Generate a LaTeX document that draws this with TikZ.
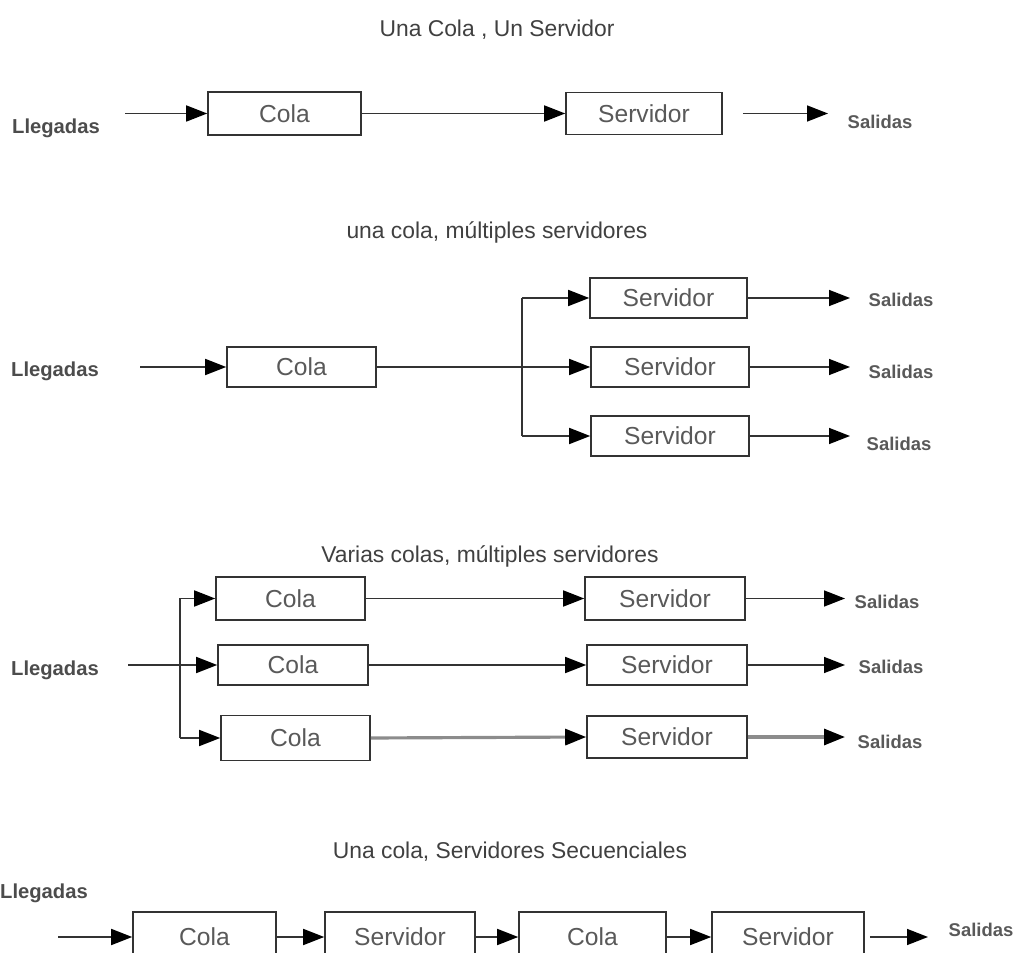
\documentclass[tikz,border=0pt]{standalone}
\usepackage{fontspec}
\setmainfont{Liberation Sans}
\usetikzlibrary{arrows.meta}

\begin{document}
\begin{tikzpicture}[
  caja/.style={draw=black!80, line width=0.9pt, fill=white, inner sep=0pt,
    font=\fontsize{14}{16}\selectfont, text=black!65},
  etiq/.style={font=\bfseries\fontsize{11.5}{13}\selectfont, text=black!70},
  salida/.style={font=\bfseries\fontsize{10.5}{12}\selectfont, text=black!65},
  titulo/.style={font=\fontsize{13}{15}\selectfont, text=black!75},
  linea/.style={line width=0.9pt, draw=black!80},
  flecha/.style={linea, -{Triangle[length=4.2mm,width=3.2mm,color=black]}},
  gruesa/.style={flecha, line width=1.8pt, draw=black!45},
]
\useasboundingbox (0,0) rectangle (20.4,-19.06);

% una cola, un servidor
\node[titulo] (t1) at (9.94,-0.60) {Una Cola , Un Servidor};
\node[etiq] (lleg1) at (1.12,-2.56) {Llegadas};
\node[caja, minimum width=3.06cm, minimum height=0.86cm] (c1) at (5.69,-2.27) {Cola};
\node[caja, minimum width=3.12cm, minimum height=0.84cm] (s1) at (12.88,-2.27) {Servidor};
\node[salida] (sal1) at (17.60,-2.44) {Salidas};
\coordinate (e1) at (2.50,-2.27);
\coordinate (o1) at (16.56,-2.27);
\draw[flecha] (e1) -- (c1.west);
\draw[flecha] (c1.east) -- (s1.west);
\draw[flecha, shorten <=4mm] (s1.east) -- (o1);

% una cola, multiples servidores
\node[titulo] (t2) at (9.94,-4.64) {una cola, múltiples servidores};
\node[etiq] (lleg2) at (1.10,-7.42) {Llegadas};
\node[caja, minimum width=2.98cm, minimum height=0.80cm] (c2) at (6.03,-7.34) {Cola};
\node[caja, minimum width=3.14cm, minimum height=0.80cm] (s21) at (13.37,-5.96) {Servidor};
\node[caja, minimum width=3.16cm, minimum height=0.80cm] (s22) at (13.40,-7.34) {Servidor};
\node[caja, minimum width=3.16cm, minimum height=0.80cm] (s23) at (13.40,-8.72) {Servidor};
\node[salida] (sal21) at (18.02,-6.00) {Salidas};
\node[salida] (sal22) at (18.02,-7.44) {Salidas};
\node[salida] (sal23) at (17.98,-8.88) {Salidas};
\coordinate (e2) at (2.80,-7.34);
\coordinate (r2) at (10.44,-7.34);
\coordinate (o2) at (17.00,0);
\draw[flecha] (e2) -- (c2.west);
\draw[flecha] (c2.east) -- (s22.west);
\draw[linea] (r2 |- s21.west) -- (r2 |- s23.west);
\draw[flecha] (r2 |- s21.west) -- (s21.west);
\draw[flecha] (r2 |- s23.west) -- (s23.west);
\draw[flecha] (s21.east) -- (s21.east -| o2);
\draw[flecha] (s22.east) -- (s22.east -| o2);
\draw[flecha] (s23.east) -- (s23.east -| o2);

% varias colas, multiples servidores
\node[titulo] (t3) at (9.80,-11.12) {Varias colas, múltiples servidores};
\node[etiq] (lleg3) at (1.10,-13.40) {Llegadas};
\node[caja, minimum width=2.98cm, minimum height=0.86cm] (c31) at (5.81,-11.97) {Cola};
\node[caja, minimum width=3.00cm, minimum height=0.80cm] (c32) at (5.86,-13.30) {Cola};
\node[caja, minimum width=2.98cm, minimum height=0.90cm] (c33) at (5.91,-14.76) {Cola};
\node[caja, minimum width=3.20cm, minimum height=0.86cm] (v31) at (13.30,-11.97) {Servidor};
\node[caja, minimum width=3.20cm, minimum height=0.80cm] (v32) at (13.34,-13.30) {Servidor};
\node[caja, minimum width=3.20cm, minimum height=0.84cm] (v33) at (13.34,-14.74) {Servidor};
\node[salida] (sal31) at (17.74,-12.04) {Salidas};
\node[salida] (sal32) at (17.82,-13.34) {Salidas};
\node[salida] (sal33) at (17.80,-14.84) {Salidas};
\coordinate (e3) at (2.56,-13.30);
\coordinate (r3) at (3.60,-13.30);
\coordinate (o3) at (16.90,0);
\draw[flecha] (e3) -- (c32.west);
\draw[linea, line width=1.5pt] (r3 |- c31.west) -- (r3 |- c33.west);
\draw[flecha] (r3 |- c31.west) -- (c31.west);
\draw[flecha] (r3 |- c33.west) -- (c33.west);
\draw[flecha] (c31.east) -- (v31.west);
\draw[flecha] (c32.east) -- (v32.west);
\draw[gruesa] (c33.east) -- (v33.west);
\draw[flecha] (v31.east) -- (v31.east -| o3);
\draw[flecha] (v32.east) -- (v32.east -| o3);
\draw[gruesa] (v33.east) -- (v33.east -| o3);

% una cola, servidores secuenciales
\node[titulo] (t4) at (10.20,-17.04) {Una cola, Servidores Secuenciales};
\node[etiq] (lleg4) at (0.88,-17.86) {Llegadas};
\node[caja, minimum width=2.86cm, minimum height=1.0cm] (c41) at (4.09,-18.74) {Cola};
\node[caja, minimum width=3.00cm, minimum height=1.0cm] (v41) at (8.00,-18.74) {Servidor};
\node[caja, minimum width=2.94cm, minimum height=1.0cm] (c42) at (11.85,-18.74) {Cola};
\node[caja, minimum width=3.04cm, minimum height=1.0cm] (v42) at (15.76,-18.74) {Servidor};
\node[salida] (sal4) at (19.62,-18.60) {Salidas};
\coordinate (e4) at (1.16,-18.74);
\coordinate (o4) at (18.56,-18.74);
\draw[flecha] (e4) -- (c41.west);
\draw[flecha] (c41.east) -- (v41.west);
\draw[flecha] (v41.east) -- (c42.west);
\draw[flecha] (c42.east) -- (v42.west);
\draw[flecha, shorten <=1mm] (v42.east) -- (o4);

\end{tikzpicture}
\end{document}
